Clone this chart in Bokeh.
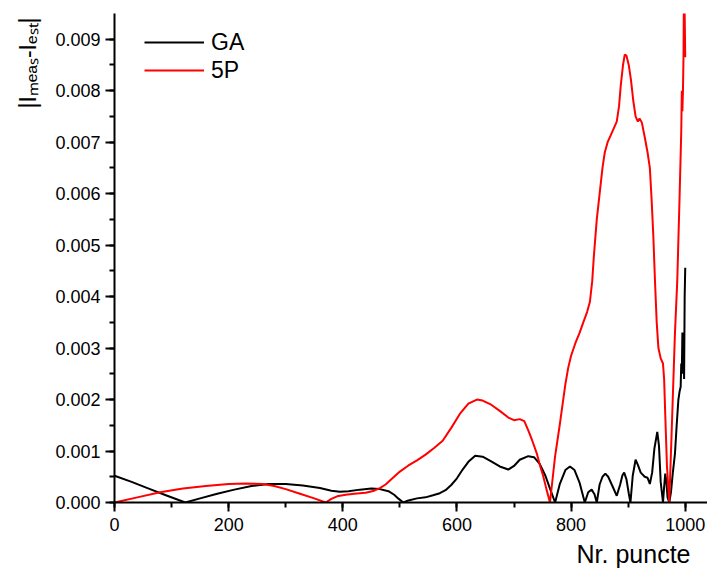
import numpy as np
from bokeh.plotting import figure
from bokeh.models import (Range1d, SingleIntervalTicker, NumeralTickFormatter,
                          Legend, LegendItem, Title)
from bokeh.embed import file_html
from bokeh.resources import INLINE

# ---- data ----
ga_x = [0, 30, 60, 90, 124, 150, 180, 210, 240, 270, 300, 330, 360, 380, 395, 410, 430,
        450, 465, 480, 490, 498, 506, 515, 530, 545, 558, 570, 580, 590, 600, 610, 620,
        632, 645, 660, 675, 690, 700, 710, 725, 735, 745, 755, 763, 772, 780, 790, 798,
        806, 815, 824, 830, 836, 841, 845, 850, 855, 860, 865, 872, 880, 886, 890, 893,
        897, 901, 904, 908, 913, 917, 922, 929, 934, 938, 942, 946, 951, 954, 957, 961,
        963, 965, 967, 969, 972, 975, 978, 982, 985, 988, 990, 992, 993, 994, 995, 996,
        997, 998, 999, 1000]
ga_y = [0.00052, 0.0004, 0.00027, 0.00014, 0.0, 0.00008, 0.00017, 0.00025, 0.00032,
        0.00036, 0.00036, 0.00033, 0.00028, 0.00023, 0.00021, 0.00022, 0.00025, 0.00027,
        0.00026, 0.00022, 0.00015, 0.00007, 0.0, 0.00004, 0.00008, 0.0001, 0.00014,
        0.00018, 0.00024, 0.00034, 0.00047, 0.00064, 0.00079, 0.00091, 0.00089, 0.0008,
        0.0007, 0.00064, 0.00071, 0.00083, 0.0009, 0.00088, 0.00075, 0.00052, 0.00027,
        0.0, 0.00035, 0.00063, 0.0007, 0.00063, 0.00038, 0.0, 0.0002, 0.00025, 0.00016,
        0.0, 0.00035, 0.0005, 0.00056, 0.0005, 0.00033, 0.00013, 0.00035, 0.00053,
        0.00058, 0.00045, 0.00018, 0.0, 0.00052, 0.00083, 0.00073, 0.00058, 0.0005,
        0.00048, 0.00036, 0.00058, 0.00105, 0.00137, 0.0011, 0.0004, 0.0, 0.0003,
        0.00056, 0.0004, 0.0001, 0.0, 0.0002, 0.00055, 0.00095, 0.0015, 0.002, 0.00215,
        0.00225, 0.0027, 0.0025, 0.0033, 0.0025, 0.0032, 0.0024, 0.0040, 0.00456]

p5_x = [0, 40, 80, 120, 160, 200, 230, 260, 280, 300, 325, 350, 370, 380, 390, 405, 420,
        440, 455, 465, 475, 485, 500, 515, 530, 545, 560, 575, 590, 605, 620, 635, 645,
        660, 675, 690, 700, 710, 718, 725, 732, 740, 746, 751, 757, 763, 768, 772, 776,
        780, 785, 790, 795, 800, 807, 815, 822, 828, 833, 837, 840, 845, 850, 855, 859,
        864, 868, 874, 880, 884, 887, 891, 894, 897, 901, 905, 909, 913, 917, 920, 924,
        929, 934, 938, 941, 944, 947, 950, 953, 957, 961, 963, 965, 968, 972, 976, 982,
        986, 990, 993, 994, 995, 996, 997, 998, 999, 1000]
p5_y = [0.0, 0.0001, 0.0002, 0.00027, 0.00032, 0.00036, 0.00037, 0.00036, 0.00032,
        0.00026, 0.00017, 0.00008, 0.0, 0.00007, 0.00012, 0.00015, 0.00017, 0.00019,
        0.00023, 0.00028, 0.00035, 0.00045, 0.0006, 0.00072, 0.00082, 0.00093, 0.00106,
        0.0012, 0.00145, 0.00172, 0.00192, 0.002, 0.00198, 0.0019, 0.00178, 0.00165,
        0.0016, 0.00162, 0.00158, 0.0014, 0.0012, 0.00095, 0.0007, 0.00052, 0.00025,
        0.0, 0.0005, 0.0009, 0.0012, 0.0015, 0.0019, 0.0023, 0.00262, 0.00285, 0.00308,
        0.0033, 0.00352, 0.0037, 0.0039, 0.0043, 0.0048, 0.0055, 0.006, 0.0065, 0.0068,
        0.007, 0.0071, 0.00725, 0.0074, 0.0077, 0.0081, 0.0085, 0.0087, 0.00868, 0.0085,
        0.0082, 0.0078, 0.0075, 0.0074, 0.00746, 0.00738, 0.0071, 0.0068, 0.0065, 0.0059,
        0.0052, 0.0043, 0.0035, 0.003, 0.0028, 0.0027, 0.0024, 0.0017, 0.0007, 0.0,
        0.0013, 0.0033, 0.0043, 0.0059, 0.0072, 0.0080, 0.0076, 0.0080, 0.0087, 0.0105,
        0.0095, 0.00865]

series_names = ["GA", "5P"]
x_label = "Nr. puncte"
y_label = "|I\u2098\u2091\u2090\u209b-I\u2091\u209b\u209c|"

FONT = "Liberation Sans"

p = figure(width=707, height=575, output_backend="svg", toolbar_location=None,
           x_range=Range1d(0, 1039), y_range=Range1d(0, 0.0095),
           min_border_left=113, min_border_right=0, min_border_top=13,
           min_border_bottom=73)
p.outline_line_color = None
p.xgrid.visible = False
p.ygrid.visible = False

r_ga = p.line(ga_x, ga_y, line_color="black", line_width=2)
r_5p = p.line(p5_x, p5_y, line_color="#ff0000", line_width=2)

p.xaxis.ticker = SingleIntervalTicker(interval=200, num_minor_ticks=2)
p.yaxis.ticker = SingleIntervalTicker(interval=0.001, num_minor_ticks=2)
p.yaxis.formatter = NumeralTickFormatter(format="0.000")

for ax in (p.xaxis, p.yaxis):
    ax.axis_line_width = 2
    ax.axis_line_color = "black"
    ax.major_tick_line_width = 2
    ax.minor_tick_line_width = 2
    ax.major_tick_in = 0
    ax.major_tick_out = 9
    ax.minor_tick_in = 0
    ax.minor_tick_out = 5
    ax.major_label_text_font = FONT
    ax.major_label_text_font_size = "18px"
    ax.major_label_text_color = "black"
p.xaxis.major_label_standoff = 6
p.yaxis.major_label_standoff = 5

legend = Legend(items=[LegendItem(label=series_names[0], renderers=[r_ga]),
                       LegendItem(label=series_names[1], renderers=[r_5p])],
                location=(30, 418), glyph_width=60, glyph_height=28, label_height=28,
                spacing=0, padding=0, margin=0, label_standoff=7,
                label_text_font=FONT, label_text_font_size="23px",
                label_text_color="black",
                border_line_alpha=0, background_fill_alpha=0)
p.add_layout(legend)

xt = Title(text=x_label, align="right", offset=17, standoff=8,
           text_font=FONT, text_font_size="25px", text_font_style="normal",
           text_color="black")
p.add_layout(xt, "below")

yt = Title(text=y_label, align="right", offset=4, standoff=24,
           text_font=FONT, text_font_size="23px", text_font_style="normal",
           text_color="black")
p.add_layout(yt, "left")

open("out.html", "w").write(file_html(p, INLINE))
